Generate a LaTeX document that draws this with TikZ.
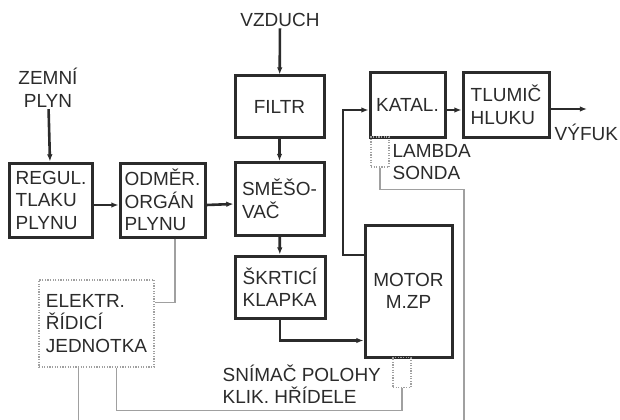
\documentclass[tikz,border=0pt]{standalone}
\usepackage{fontspec}
\setmainfont{Liberation Sans}
\usepackage{tikz}
\usetikzlibrary{arrows.meta,calc}
\definecolor{tmavaSeda}{HTML}{2B2B2B}
\definecolor{svetlaSeda}{HTML}{A0A0A0}
\newcommand{\pismo}{\fontsize{13.5}{16}\selectfont}

\begin{document}
\begin{tikzpicture}[x=0.25mm,y=-0.25mm,
  blok/.style={draw=tmavaSeda,line width=0.75mm,align=left,font=\pismo,
               text=tmavaSeda,inner sep=1pt},
  ridic/.style={draw=svetlaSeda,densely dotted,line width=0.3mm,align=left,
                font=\pismo,text=tmavaSeda},
  cidlo/.style={draw=svetlaSeda,densely dotted,line width=0.3mm,
                minimum width=4.5mm,minimum height=7.5mm,inner sep=0pt},
  popis/.style={font=\pismo,text=tmavaSeda,align=left,inner sep=1pt},
  sipka/.style={-{Latex[length=1.8mm,width=1.4mm]},line width=0.65mm,tmavaSeda},
  tenka/.style={line width=0.3mm,svetlaSeda}]
\useasboundingbox (0,0) rectangle (620,420);
% bloky
\node[blok,minimum width=20.5mm,minimum height=18.5mm] (regul) at (51,200) {REGUL.\\TLAKU\\PLYNU};
\node[blok,minimum width=21.25mm,minimum height=18.5mm] (odmer) at (162.5,200) {ODMĚR.\\ORGÁN\\PLYNU};
\node[blok,minimum width=22.25mm,minimum height=15.25mm] (filtr) at (279.5,106.5) {FILTR};
\node[blok,minimum width=22.25mm,minimum height=18.25mm] (smeso) at (279.5,199) {SMĚŠO-\\VAČ};
\node[blok,minimum width=22.5mm,minimum height=15.5mm] (skrtic) at (280,287) {ŠKRTICÍ\\KLAPKA};
\node[blok,minimum width=18.75mm,minimum height=16mm] (katal) at (407.5,105) {KATAL.};
\node[blok,minimum width=21.5mm,minimum height=16mm] (tlumic) at (506,105) {TLUMIČ\\HLUKU};
\node[blok,align=center,minimum width=21.75mm,minimum height=33mm] (motor) at (408.5,291) {MOTOR\\M.ZP};
\node[ridic,minimum width=28.75mm,minimum height=21.75mm] (ridici) at (96.5,323.5) {ELEKTR.\\ŘÍDICÍ\\JEDNOTKA};
\node[cidlo] (lambda) at (380,152) {};
\node[cidlo] (snimac) at (402,372.5) {};
% popisy
\node[popis,align=center] (zemni) at (48,88) {ZEMNÍ\\PLYN};
\node[popis] (vzduch) at (280,20) {VZDUCH};
\node[popis,anchor=west] (vyfuk) at (553,132) {VÝFUK};
\node[popis,anchor=west] (sonda) at (391,162) {LAMBDA\\SONDA};
\node[popis,anchor=west] (poloha) at (221,384) {SNÍMAČ POLOHY\\KLIK. HŘÍDELE};
\coordinate (ohyb) at (343,255);
\coordinate (vystup) at (587,109);
% toky
\draw[sipka] (zemni) -- (regul);
\draw[sipka] (vzduch) -- (filtr);
\draw[sipka] ([yshift=-1.25mm]regul.east) -- ([yshift=-1.25mm]odmer.west);
\draw[sipka] ([yshift=-1.25mm]odmer.east) -- ([yshift=-1.25mm]smeso.west);
\draw[sipka] (filtr) -- (smeso);
\draw[sipka] (smeso) -- (skrtic);
\draw[sipka] (skrtic.south) |- ([yshift=4.5mm]motor.south west);
\draw[sipka] (motor.west |- ohyb) -- (ohyb) |- ([yshift=-1.25mm]katal.west);
\draw[sipka] ([yshift=-1.25mm]katal.east) -- ([yshift=-1.25mm]tlumic.west);
\draw[sipka] (tlumic.east |- vystup) -- (vystup);
% signaly
\draw[tenka] ([xshift=3.1mm]odmer.south) |- ([yshift=5.25mm]ridici.east);
\draw[tenka] ([xshift=-4.6mm]ridici.south) -- ++(0,53);
\draw[tenka] ([xshift=4.9mm]ridici.south) -- ++(0,43) -| (snimac.south);
\draw[tenka] (lambda.south) -- ++(0,22) -| ++(84,231);
\end{tikzpicture}
\end{document}
